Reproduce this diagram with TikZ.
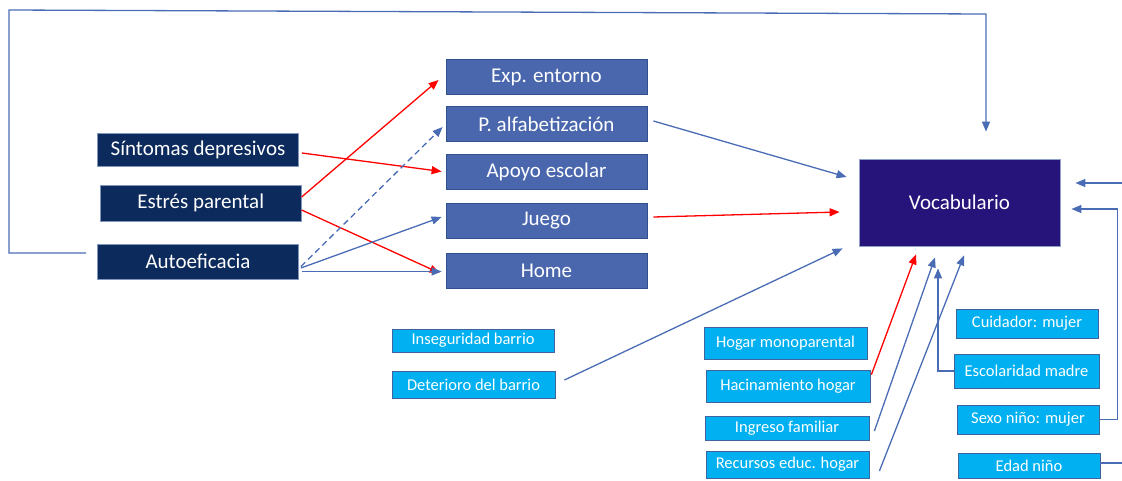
\documentclass[tikz,border=0pt]{standalone}
\usepackage{fontspec}
\setmainfont{Carlito}
\usetikzlibrary{arrows.meta}
\definecolor{navy}{HTML}{0C2A5C}
\definecolor{navyline}{HTML}{8096BE}
\definecolor{midblue}{HTML}{4A67AE}
\definecolor{midline}{HTML}{2F528F}
\definecolor{vocfill}{HTML}{27147A}
\definecolor{vocline}{HTML}{8FA0C8}
\definecolor{cyanfill}{HTML}{00B0F0}
\definecolor{cyanline}{HTML}{41649C}
\definecolor{lblue}{HTML}{4A6CB5}
\definecolor{lred}{HTML}{FF0000}
\begin{document}
\begin{tikzpicture}[x=1pt,y=-1pt,
  darkbox/.style={draw=navyline, line width=0.8pt, fill=navy, text=white, inner sep=0pt,
     font=\fontsize{21}{24}\selectfont, minimum width=201pt},
  midbox/.style={draw=midline, line width=0.8pt, fill=midblue, text=white, inner sep=0pt,
     font=\fontsize{21}{24}\selectfont, minimum width=201pt, minimum height=35pt},
  vocbox/.style={draw=vocline, line width=0.8pt, fill=vocfill, text=white, inner sep=0pt,
     font=\fontsize{21}{24}\selectfont, minimum width=201pt, minimum height=87pt},
  lightbox/.style={draw=cyanline, line width=0.8pt, fill=cyanfill, text=white, inner sep=0pt,
     font=\fontsize{16.5}{19}\selectfont},
  barrow/.style={draw=lblue, line width=1.3pt, -{Triangle[length=10pt,width=8pt]}},
  rarrow/.style={draw=lred, line width=1.3pt, -{Triangle[length=10pt,width=8pt]}},
  bline/.style={draw=lblue, line width=1.3pt}
]
\useasboundingbox (0,0) rectangle (1122,480);

% left boxes
\node[darkbox, minimum height=33pt] (sint) at (198,149.5) {Síntomas depresivos};
\node[darkbox, minimum height=36pt] (estres) at (200.7,203) {Estrés parental};
\node[darkbox, minimum height=35pt] (auto) at (198,261.5) {Autoeficacia};

% middle boxes
\node[midbox] (exp) at (546.5,77) {Exp. entorno};
\node[midbox] (palf) at (546.5,124) {P. alfabetización};
\node[midbox] (apoyo) at (546.5,171.5) {Apoyo escolar};
\node[midbox] (juego) at (546.5,221) {Juego};
\node[midbox] (home) at (546.5,271) {Home};

% outcome
\node[vocbox] (vocab) at (959.5,202.5) {Vocabulario};

% light boxes
\node[lightbox, minimum width=162pt, minimum height=23pt] (inseg) at (473,340.5) {Inseguridad barrio};
\node[lightbox, minimum width=163pt, minimum height=27pt] (deter) at (473.5,384.5) {Deterioro del barrio};
\node[lightbox, minimum width=163pt, minimum height=32pt] (hogar) at (785.5,343) {Hogar monoparental};
\node[lightbox, minimum width=164pt, minimum height=32pt] (hacin) at (788,386) {Hacinamiento hogar};
\node[lightbox, minimum width=164pt, minimum height=24pt] (ingreso) at (787,428) {Ingreso familiar};
\node[lightbox, minimum width=163pt, minimum height=27pt] (recursos) at (787.5,464.5) {Recursos educ. hogar};
\node[lightbox, minimum width=142pt, minimum height=29pt] (cuid) at (1027,323.5) {Cuidador: mujer};
\node[lightbox, minimum width=145pt, minimum height=34pt] (escol) at (1026.5,371) {Escolaridad madre};
\node[lightbox, minimum width=142pt, minimum height=29pt] (sexo) at (1028,419.5) {Sexo niño: mujer};
\node[lightbox, minimum width=142pt, minimum height=25pt] (edad) at (1029,465.5) {Edad niño};

% free ends at the right border
\coordinate (rightin) at (1122,183);
\coordinate (edadout) at (1122,463);

% left -> middle
\draw[rarrow] ([yshift=6pt]estres.east) -- ([xshift=-7pt,yshift=-3pt]exp.west);
\draw[rarrow] ([xshift=3pt,yshift=-3.5pt]sint.east) -- ([xshift=-4pt]apoyo.west);
\draw[rarrow] ([yshift=-7pt]estres.east) -- ([xshift=-6pt,yshift=-2pt]home.west);
\draw[barrow, dash pattern=on 6pt off 4pt] ([xshift=2pt,yshift=-5pt]auto.east) -- ([xshift=-3pt,yshift=-3pt]palf.west);
\draw[barrow] ([xshift=2pt,yshift=-6.5pt]auto.east) -- ([xshift=-4pt,yshift=4pt]juego.west);
\draw[barrow] ([xshift=3pt,yshift=-10pt]auto.east) -- ([xshift=-4pt,yshift=-0.5pt]home.west);

% middle -> vocab
\draw[barrow] ([xshift=6pt,yshift=3pt]palf.east) -- ([xshift=-12pt,yshift=25.5pt]vocab.west);
\draw[rarrow] ([xshift=6pt,yshift=4pt]juego.east) -- ([xshift=-19pt,yshift=-9.5pt]vocab.west);
\draw[barrow] ([xshift=9pt,yshift=4.5pt]deter.east) -- ([xshift=-16pt,yshift=-2pt]vocab.south west);

% bottom -> vocab
\draw[rarrow] ([xshift=1pt,yshift=-5pt]hacin.north east) -- ([xshift=-43.5pt,yshift=-8pt]vocab.south);
\draw[barrow] ([xshift=5pt,yshift=-3pt]ingreso.east) -- ([xshift=-24.5pt,yshift=-11pt]vocab.south);
\draw[barrow] ([xshift=10pt,yshift=-6.5pt]recursos.east) -- ([xshift=4.5pt,yshift=-9pt]vocab.south);
\draw[barrow] (escol.west) -| ([xshift=-21.5pt,yshift=-22pt]vocab.south);

% right side
\draw[barrow] (sexo.east) -- ++(18,0) |- ([xshift=11pt,yshift=-6.5pt]vocab.east);
\draw[barrow] (rightin) -- ([xshift=15pt,yshift=19.5pt]vocab.east);
\draw[bline] (edad.east |- edadout) -- (edadout);

% feedback loop
\draw[barrow] ([xshift=-11pt,yshift=8.5pt]auto.west) -- (9,253) -- (9,10) -- (986,14) -- ([xshift=26.5pt,yshift=27pt]vocab.north);
\end{tikzpicture}
\end{document}
